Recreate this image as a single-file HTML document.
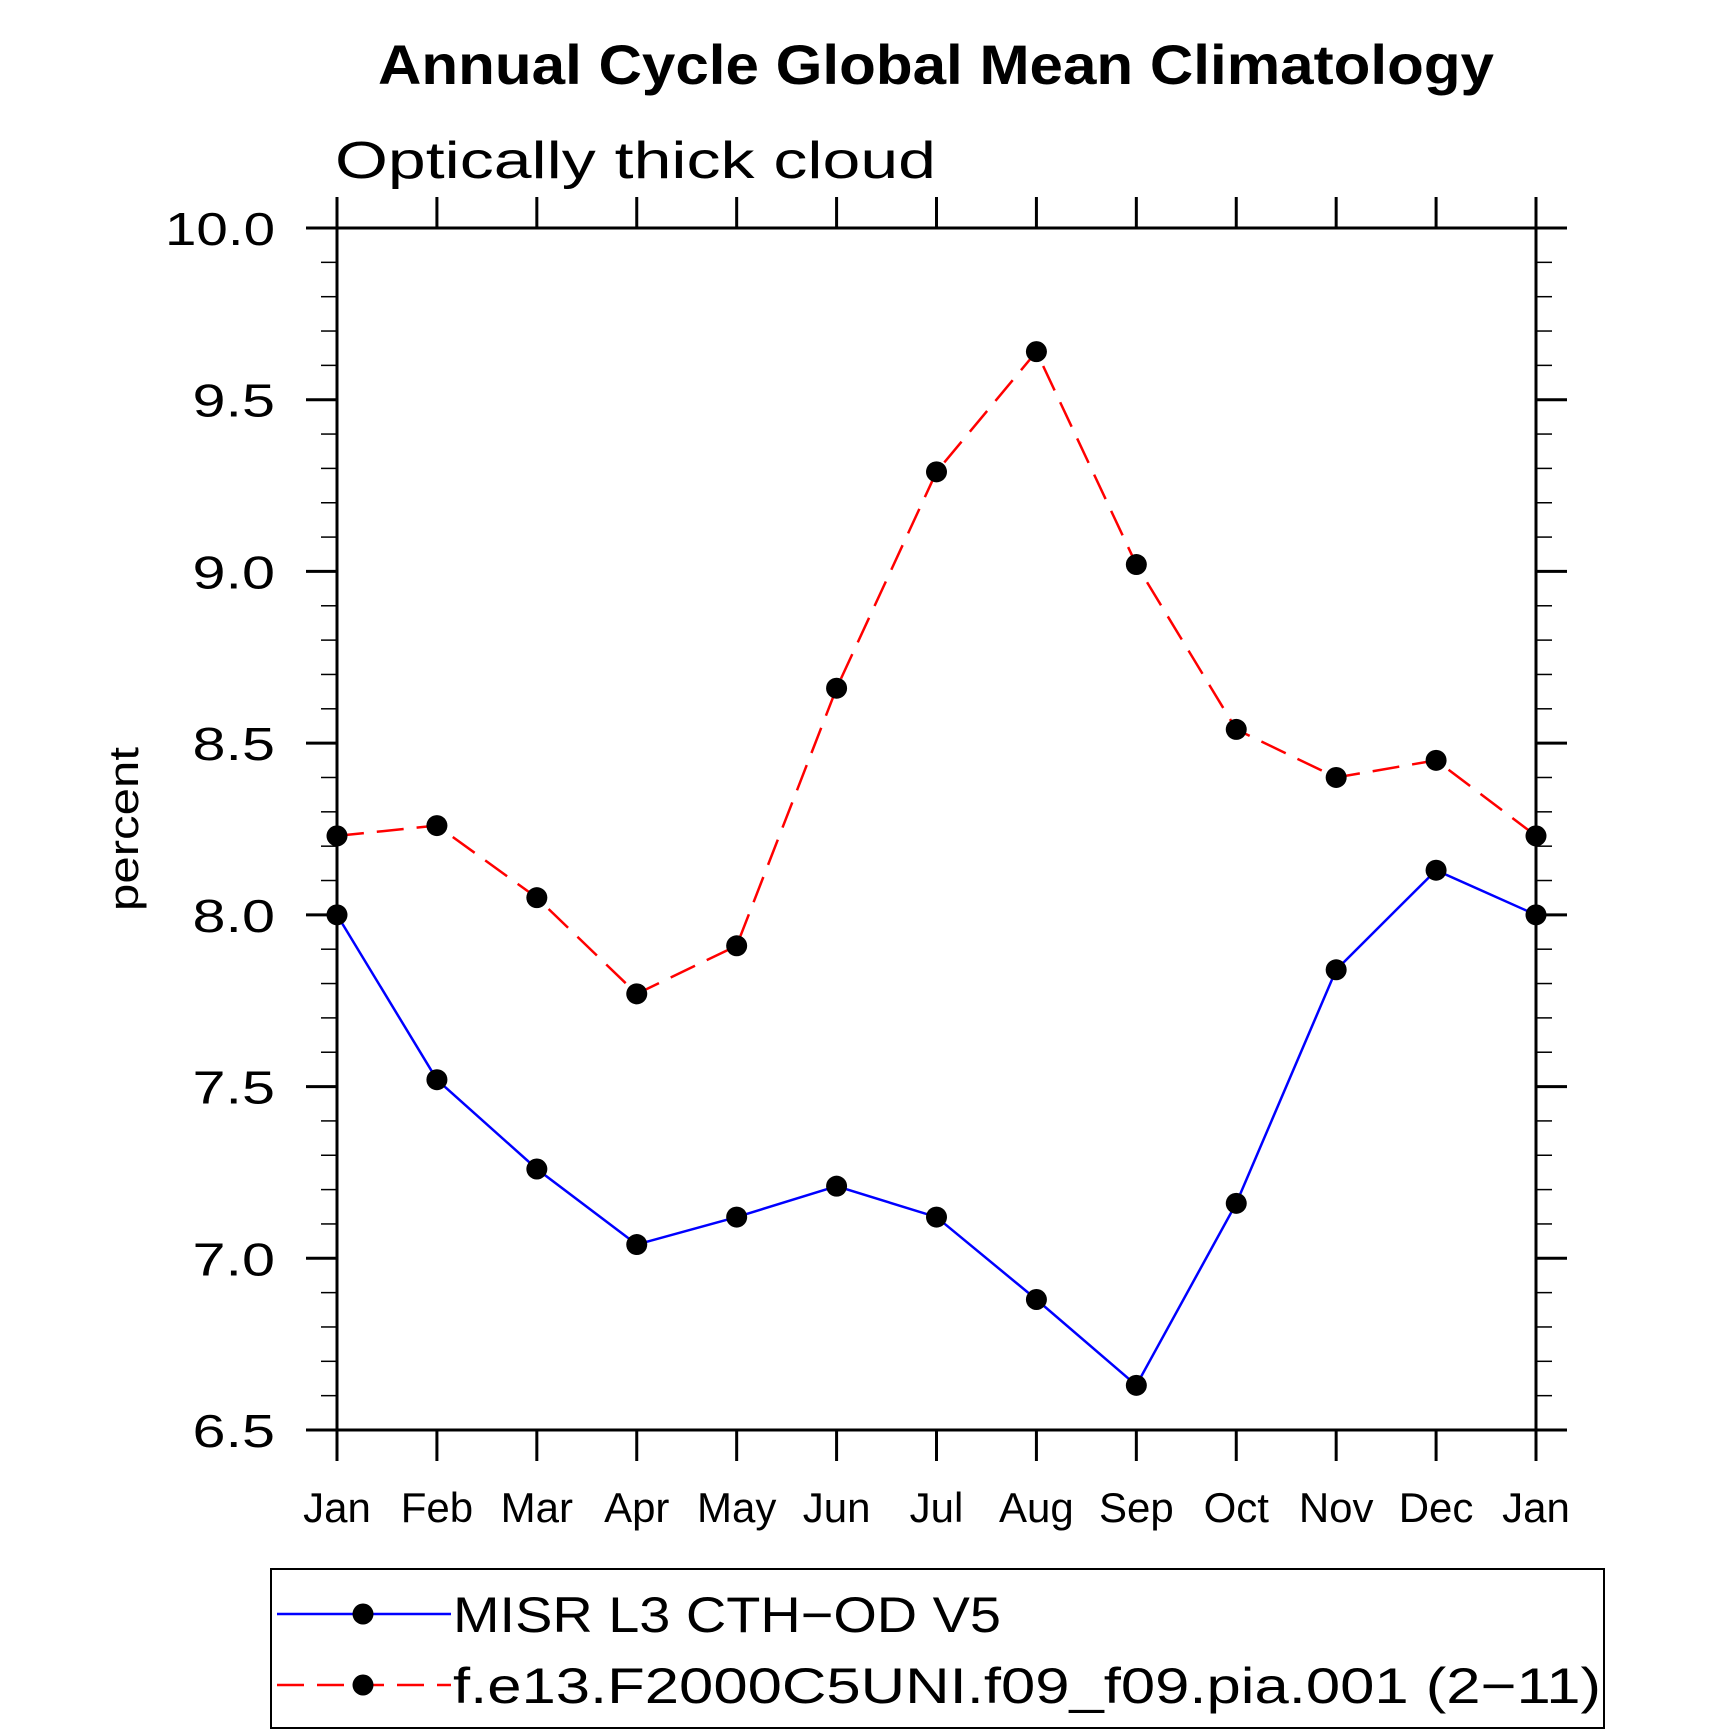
<!DOCTYPE html>
<html><head><meta charset="utf-8"><style>
html,body{margin:0;padding:0;background:#fff;}
svg{display:block;font-family:"Liberation Sans",sans-serif;}
</style></head><body>
<svg id="chart" width="1710" height="1735" viewBox="0 0 1710 1735">
<text x="378" y="84" font-size="56" font-weight="bold" textLength="1116" lengthAdjust="spacingAndGlyphs">Annual Cycle Global Mean Climatology</text>
<text x="335" y="178" font-size="52" font-weight="300" textLength="601" lengthAdjust="spacingAndGlyphs">Optically thick cloud</text>
<text transform="translate(138,829) rotate(-90)" text-anchor="middle" font-size="42" textLength="164" lengthAdjust="spacingAndGlyphs">percent</text>
<g id="axes"></g>
<g id="series"></g>
<rect x="271" y="1569" width="1333" height="159" fill="none" stroke="#000" stroke-width="2"/>
<g>
<line x1="277" y1="1614" x2="451" y2="1614" stroke="#0000ff" stroke-width="2.5"/>
<circle cx="363" cy="1614" r="10.5" fill="#000"/>
<text x="453" y="1632" font-size="50" textLength="548" lengthAdjust="spacingAndGlyphs">MISR L3 CTH−OD V5</text>
</g>
<g>
<line x1="277" y1="1685" x2="451" y2="1685" stroke="#ff0000" stroke-width="2.5" stroke-dasharray="27,13"/>
<circle cx="363" cy="1685" r="10.5" fill="#000"/>
<text x="453" y="1703" font-size="50" textLength="1148" lengthAdjust="spacingAndGlyphs">f.e13.F2000C5UNI.f09_f09.pia.001 (2−11)</text>
</g>
</svg>
<script>
const months = ["Jan","Feb","Mar","Apr","May","Jun","Jul","Aug","Sep","Oct","Nov","Dec","Jan"];
const misrValues = [8.00,7.52,7.26,7.04,7.12,7.21,7.12,6.88,6.63,7.16,7.84,8.13,8.00];
const modelValues = [8.23,8.26,8.05,7.77,7.91,8.66,9.29,9.64,9.02,8.54,8.40,8.45,8.23];
const yTicks = [6.5,7.0,7.5,8.0,8.5,9.0,9.5,10.0];
const yMin = 6.5, yMax = 10.0;
const L=337,R=1536,T=228,B=1430;
const NS="http://www.w3.org/2000/svg";
function xs(i){return L+(R-L)*i/(months.length-1);}
function ys(v){return B-(B-T)*(v-yMin)/(yMax-yMin);}
function mk(tag,attrs,parent){const e=document.createElementNS(NS,tag);for(const k in attrs)e.setAttribute(k,attrs[k]);parent.appendChild(e);return e;}
const ax=document.getElementById('axes');
const frame=mk('rect',{x:L,y:T,width:R-L,height:B-T,fill:'none',stroke:'#000','stroke-width':3},ax);


for(let v=yMin; v<=yMax+1e-9; v+=0.1){
  const y=ys(v); const major=Math.abs(v*2-Math.round(v*2))<1e-6;
  const len=major?31:16;
  mk('line',{x1:L-len,y1:y,x2:L,y2:y,stroke:'#000','stroke-width':major?3:1.5},ax);
  mk('line',{x1:R,y1:y,x2:R+len,y2:y,stroke:'#000','stroke-width':major?3:1.5},ax);
}
yTicks.forEach(v=>{
  const s=v.toFixed(1);
  const t=mk('text',{x:L-62,y:ys(v)+17,'text-anchor':'end','font-size':46,textLength:s.length*27.5,lengthAdjust:'spacingAndGlyphs'},ax);
  t.textContent=s;
  
  
});
months.forEach((m,i)=>{
  const x=xs(i);
  mk('line',{x1:x,y1:B,x2:x,y2:B+31,stroke:'#000','stroke-width':3},ax);
  mk('line',{x1:x,y1:T-31,x2:x,y2:T,stroke:'#000','stroke-width':3},ax);
  const t=mk('text',{x:x,y:1522,'text-anchor':'middle','font-size':42},ax);
  t.textContent=m;
  
  
});
const sg=document.getElementById('series');
function drawSeries(vals,color,dash,name){
  const g=mk('g',{},sg);
  
  
  const pts=vals.map((v,i)=>xs(i)+','+ys(v)).join(' ');
  const a={points:pts,fill:'none',stroke:color,'stroke-width':2.5};
  if(dash)a['stroke-dasharray']=dash;
  mk('polyline',a,g);
  vals.forEach((v,i)=>{
    const c=mk('circle',{cx:xs(i),cy:ys(v),r:10.5,fill:'#000'},g);
    
    
  });
}
drawSeries(misrValues,'#0000ff',null,'misr-series');
drawSeries(modelValues,'#ff0000','27,13','model-series');
</script>
</body></html>
